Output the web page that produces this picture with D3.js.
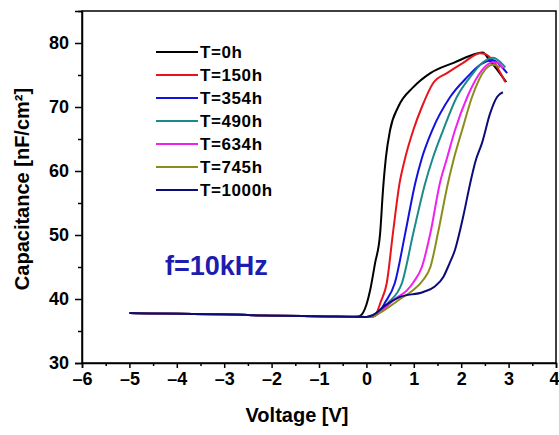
<!DOCTYPE html>
<html><head><meta charset="utf-8">
<script src="https://cdn.jsdelivr.net/npm/d3@7"></script>
<style>
html,body{margin:0;padding:0;background:#fff;}
svg{display:block;font-family:"Liberation Sans",Arial,sans-serif;font-weight:bold;}
</style></head>
<body>
<svg id="chart" width="559" height="435"></svg>
<script>
// ---- data ----
const seriesNames = ["T=0h","T=150h","T=354h","T=490h","T=634h","T=745h","T=1000h"];
const seriesColors = ["#000000","#e8141c","#1212e0","#1a8a8a","#f020f0","#8c8c1c","#0c0c78"];

const v0h   = [-5,-4,-3,-2,-1,-0.3,-0.15,0,0.08,0.18,0.29,0.35,0.41,0.5,0.67,0.99,1.35,1.84,2.36,2.45,2.6,2.95];
const c0h   = [37.8,37.7,37.6,37.4,37.3,37.2,37.3,39.1,41.4,45.5,50.3,57,62,66.4,70,73.1,75.3,76.9,78.4,78.5,77.3,73.9];

const v150h = [-5,-4,-3,-2,-1,0,0.15,0.22,0.3,0.43,0.56,0.7,0.8,0.99,1.17,1.41,1.7,2.04,2.4,2.5,2.93];
const c150h = [37.8,37.7,37.6,37.4,37.3,37.2,37.3,37.9,39.5,42.5,50.3,58.1,61.5,66.4,70,73.75,75.3,76.9,78.4,78.3,73.9];

const v354h = [-5,-4,-3,-2,-1,0,0.15,0.3,0.39,0.6,0.82,1.03,1.17,1.39,1.77,2.13,2.4,2.67,2.85,2.97];
const c354h = [37.8,37.7,37.6,37.4,37.3,37.2,37.3,38.3,39.4,42.5,50.3,58.1,62,66.4,71.6,74.7,76.6,77.3,76.3,75.3];

const v490h = [-5,-4,-3,-2,-1,0,0.15,0.3,0.46,0.75,0.99,1.24,1.4,1.62,1.91,2.19,2.46,2.67,2.8,2.93];
const c490h = [37.8,37.7,37.6,37.4,37.3,37.2,37.3,38.2,39.4,42.5,50.3,58.1,62,66.4,71.6,74.7,77,77.7,77.2,76.2];

const v634h = [-5,-4,-3,-2,-1,0,0.15,0.3,0.6,0.85,1.0,1.17,1.35,1.55,1.7,1.87,2.13,2.34,2.67,2.8,2.88];
const c634h = [37.8,37.7,37.6,37.4,37.3,37.2,37.3,38.0,40.0,41.3,42.7,45,50.3,58.1,62,66.4,71.6,74.7,77,76.8,76];

const v745h = [-5,-4,-3,-2,-1,0,0.15,0.3,0.75,0.99,1.2,1.35,1.51,1.72,1.83,2.02,2.23,2.5,2.67,2.82];
const c745h = [37.8,37.7,37.6,37.4,37.3,37.2,37.3,37.9,40.2,41.4,43,45,50.3,58.1,61.5,66.4,71.6,75.8,76.6,76.2];

const v1000h = [-5,-4,-3,-2,-1,0,0.14,0.4,0.7,1.2,1.45,1.62,1.75,1.87,2.04,2.19,2.3,2.44,2.61,2.76,2.88];
const c1000h = [37.8,37.7,37.6,37.4,37.3,37.2,37.5,39,40.3,41.1,42,43.4,45.5,47.7,52.8,58.1,61.5,64.4,69,71.6,72.3];

const voltages = [v0h,v150h,v354h,v490h,v634h,v745h,v1000h];
const capacitances = [c0h,c150h,c354h,c490h,c634h,c745h,c1000h];

const xTickValues = [-6,-5,-4,-3,-2,-1,0,1,2,3,4];
const yTickValues = [30,40,50,60,70,80];
const xTitle = "Voltage [V]";
const yTitle = "Capacitance [nF/cm²]";
const annotation = "f=10kHz";

// ---- drawing ----
const svg = d3.select("#chart");
const x = d3.scaleLinear().domain([-6,4]).range([82,556]);
const y = d3.scaleLinear().domain([30,85]).range([363,11]);

const fmt = d => (d < 0 ? "\u2013" + Math.abs(d) : String(d));

// frame
svg.append("rect").attr("x",x(-6)).attr("y",y(85)).attr("width",x(4)-x(-6)).attr("height",y(30)-y(85))
  .attr("fill","none").attr("stroke","#000").attr("stroke-width",1.5);

// x axis
const xAxis = svg.append("g").attr("transform",`translate(0,${y(30)})`)
  .call(d3.axisBottom(x).tickValues(xTickValues).tickFormat(fmt).tickSize(5).tickPadding(4));
xAxis.select(".domain").attr("stroke-width",1.5);
xAxis.selectAll(".tick line").attr("stroke-width",1.5);
xAxis.selectAll(".tick text").attr("font-size",18).attr("font-weight","bold")
  .attr("font-family","Liberation Sans, Arial, sans-serif").attr("fill","#000");
// keep the last label ("4") inside the picture, as at the edge of the reference
xAxis.selectAll(".tick text").filter(d => d === 4).attr("text-anchor","end").attr("x",3);
const xMinor = svg.append("g").attr("transform",`translate(0,${y(30)})`)
  .call(d3.axisBottom(x).tickValues(d3.range(-5.5,4,1)).tickFormat("").tickSize(3));
xMinor.select(".domain").remove();
xMinor.selectAll(".tick line").attr("stroke-width",1.5);

// y axis
const yAxis = svg.append("g").attr("transform",`translate(${x(-6)},0)`)
  .call(d3.axisLeft(y).tickValues(yTickValues).tickFormat(d3.format("d")).tickSize(7).tickPadding(6));
yAxis.select(".domain").attr("stroke-width",1.5);
yAxis.selectAll(".tick line").attr("stroke-width",1.5);
yAxis.selectAll(".tick text").attr("font-size",18).attr("font-weight","bold")
  .attr("font-family","Liberation Sans, Arial, sans-serif").attr("fill","#000");
const yMinor = svg.append("g").attr("transform",`translate(${x(-6)},0)`)
  .call(d3.axisLeft(y).tickValues([35,45,55,65,75,85]).tickFormat("").tickSize(4));
yMinor.select(".domain").remove();
yMinor.selectAll(".tick line").attr("stroke-width",1.5);

// titles
svg.append("text").attr("x",297).attr("y",422).attr("text-anchor","middle")
  .attr("font-size",20).attr("font-weight","bold").attr("fill","#000").text(xTitle);
svg.append("text").attr("transform",`translate(29,189) rotate(-90)`).attr("text-anchor","middle")
  .attr("font-size",20).attr("font-weight","bold").attr("fill","#000").text(yTitle);

// annotation
svg.append("text").attr("x",165).attr("y",275).attr("font-size",27).attr("font-weight","bold")
  .attr("fill","#1c1cb0").text(annotation);

// curves
const line = d3.line().x(d => x(d[0])).y(d => y(d[1])).curve(d3.curveMonotoneX);
seriesNames.forEach((name,i) => {
  const pts = voltages[i].map((v,j) => [v, capacitances[i][j]]);
  svg.append("path").datum(pts).attr("d",line).attr("fill","none")
    .attr("stroke",seriesColors[i]).attr("stroke-width",2).attr("stroke-linejoin","round");
});

// legend
const leg = svg.append("g");
seriesNames.forEach((name,i) => {
  const cy = 52 + i*23;
  leg.append("line").attr("x1",156).attr("x2",198).attr("y1",cy).attr("y2",cy)
    .attr("stroke",seriesColors[i]).attr("stroke-width",2);
  leg.append("text").attr("x",200).attr("y",cy).attr("dy","0.36em").attr("font-size",17)
    .attr("font-weight","bold").attr("letter-spacing",0.6).attr("fill","#000").text(name);
});
</script>
</body></html>
